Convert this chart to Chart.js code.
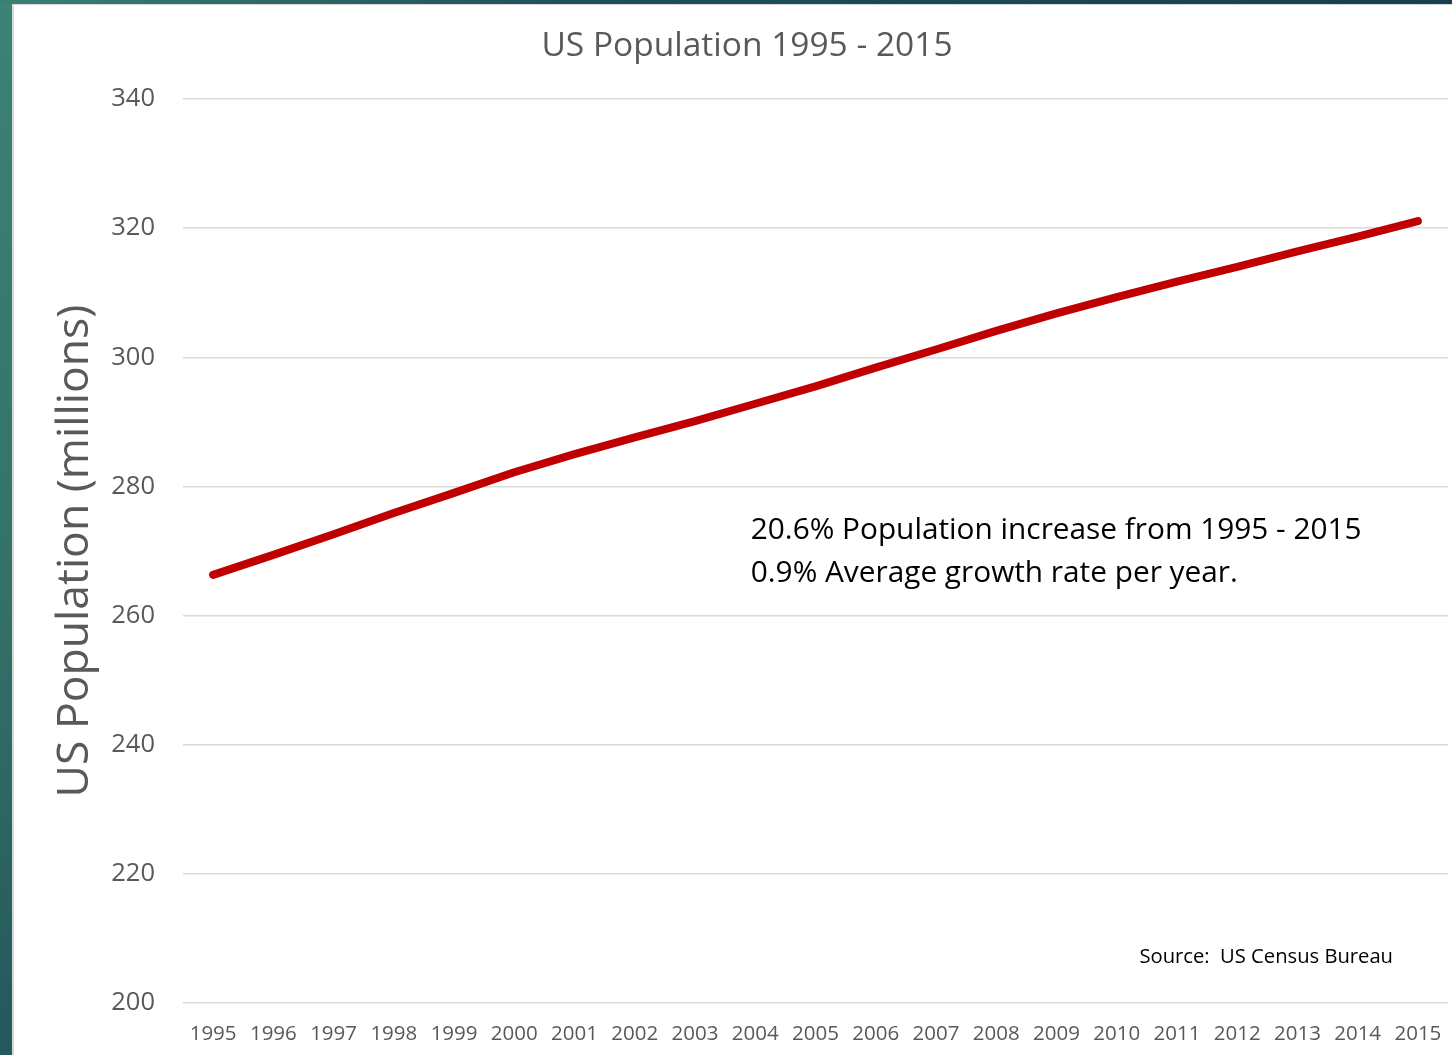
<!DOCTYPE html>
<html>
<head>
<meta charset="utf-8">
<script src="https://cdn.jsdelivr.net/npm/chart.js@4.4.0/dist/chart.umd.min.js"></script>
<style>
    html, body {
        margin: 0;
        padding: 0;
        width: 1452px;
        height: 1055px;
        overflow: hidden;
        background: linear-gradient(180deg, #3c8276 0%, #347268 55%, #24585c 100%);
    }
    .topbar {
        position: absolute;
        left: 0;
        top: 0;
        width: 1452px;
        height: 4px;
        background: linear-gradient(90deg, #3c7f74 0%, #1e5058 40%, #173f4d 100%);
    }
    .slide {
        position: absolute;
        left: 12px;
        top: 4px;
        width: 1438px;
        height: 1051px;
        background: #ffffff;
        border-left: 2px solid #d6d6d6;
        border-top: 1px solid #d6d6d6;
    }
    canvas {
        display: block;
    }
</style>
</head>
<body>
<div class="topbar"></div>
<div class="slide">
    <canvas id="popChart" width="1438" height="1050"></canvas>
</div>
<script>
// Chart data
const years = ['1995', '1996', '1997', '1998', '1999', '2000', '2001', '2002', '2003', '2004',
    '2005', '2006', '2007', '2008', '2009', '2010', '2011', '2012', '2013', '2014', '2015'];
const population = [266.3, 269.4, 272.6, 275.9, 279.0, 282.2, 285.0, 287.6, 290.1, 292.8,
    295.5, 298.4, 301.2, 304.1, 306.8, 309.3, 311.7, 314.0, 316.4, 318.7, 321.1];
const yTicks = [200, 220, 240, 260, 280, 300, 320, 340];

const chartTitle = 'US Population 1995 - 2015';
const yAxisTitle = 'US Population (millions)';
const noteLines = ['20.6% Population increase from 1995 - 2015', '0.9% Average growth rate per year.'];
const sourceText = 'Source:  US Census Bureau';

const fontFamily = '"Open Sans", "Noto Sans", sans-serif';

// Title and text boxes drawn on top of the chart
const textBoxes = {
    id: 'textBoxes',
    afterDraw(chart) {
        const ctx = chart.ctx;
        const area = chart.chartArea;
        ctx.save();
        ctx.textBaseline = 'middle';

        ctx.fillStyle = '#595959';
        ctx.font = '33.5px ' + fontFamily;
        ctx.textAlign = 'center';
        ctx.fillText(chartTitle, 733, 41);

        ctx.fillStyle = '#000000';
        ctx.font = '29.8px ' + fontFamily;
        ctx.textAlign = 'left';
        const noteX = area.left + (area.right - area.left) * 0.4488;
        ctx.fillText(noteLines[0], noteX, 526);
        ctx.fillText(noteLines[1], noteX, 569);

        ctx.font = '20.2px ' + fontFamily;
        ctx.textAlign = 'right';
        ctx.fillText(sourceText, area.right - 55, 952);
        ctx.restore();
    }
};

const ctx = document.getElementById('popChart').getContext('2d');
const popChart = new Chart(ctx, {
    type: 'line',
    data: {
        labels: years,
        datasets: [{
            label: 'US Population',
            data: population,
            borderColor: '#c00000',
            borderWidth: 8,
            borderCapStyle: 'round',
            borderJoinStyle: 'round',
            pointRadius: 0,
            tension: 0,
            fill: false
        }]
    },
    options: {
        responsive: false,
        animation: false,
        layout: {
            padding: { top: 94, right: 4, left: 0, bottom: 0 }
        },
        plugins: {
            legend: { display: false },
            tooltip: { enabled: false },
            title: { display: false }
        },
        scales: {
            x: {
                offset: true,
                // tick marks hidden, their length only spaces the labels
                grid: { display: false, drawTicks: true, tickLength: 19 },
                border: { display: false },
                ticks: {
                    color: '#595959',
                    font: { family: fontFamily, size: 20.5 },
                    padding: 0,
                    maxRotation: 0,
                    autoSkip: false
                },
                afterFit(scale) {
                    scale.height = 52;
                }
            },
            y: {
                min: 200,
                max: 340,
                afterBuildTicks(scale) {
                    scale.ticks = yTicks.map(v => ({ value: v }));
                },
                grid: {
                    color: '#d9d9d9',
                    lineWidth: 1.5,
                    drawTicks: false
                },
                border: { display: false },
                ticks: {
                    color: '#595959',
                    font: { family: fontFamily, size: 25.5 },
                    padding: 28
                },
                title: {
                    display: true,
                    text: yAxisTitle,
                    color: '#595959',
                    font: { family: fontFamily, size: 44.5 },
                    padding: { top: 35, bottom: 0 }
                },
                afterFit(scale) {
                    scale.width = 169;
                }
            }
        }
    },
    plugins: [textBoxes]
});
</script>
</body>
</html>
